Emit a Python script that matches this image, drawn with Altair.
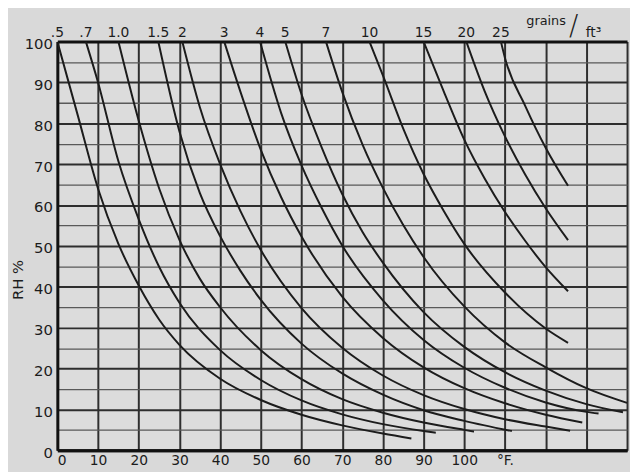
import altair as alt
import pandas as pd

# curve labels (grains per cubic foot)
GRAINS = [".5", ".7", "1.0", "1.5", "2", "3", "4", "5", "7", "10", "15", "20", "25"]

# temperature (°F) and relative humidity (%)
T_05 = [0, 5, 10, 15, 20, 25, 30, 40, 50, 60, 70, 80, 87]
RH_05 = [100, 82, 64, 50.5, 40.3, 32, 25.8, 17.5, 12.3, 8.7, 6.1, 4.1, 2.9]

T_07 = [7, 10, 15, 20, 25, 30, 40, 50, 60, 70, 80, 90, 93]
RH_07 = [100, 90, 70.7, 56.5, 44.9, 36.1, 24.5, 17.2, 12.2, 8.8, 6.4, 4.7, 4.3]

T_10 = [15, 20, 25, 30, 35, 40, 50, 60, 70, 80, 90, 100, 102.4]
RH_10 = [100, 80.6, 64.1, 51.5, 42, 35, 24.5, 17.4, 12.5, 9.2, 6.8, 5.0, 4.6]

T_15 = [24.8, 30, 35, 40, 45, 50, 60, 70, 80, 90, 100, 111.7]
RH_15 = [100, 78, 63, 52.4, 43.9, 36.8, 26.1, 18.8, 13.6, 9.8, 7.2, 4.7]

T_2 = [30.7, 35, 40, 45, 50, 60, 70, 80, 90, 100, 110, 120, 126]
RH_2 = [100, 84, 70, 58.5, 49, 34.8, 25.1, 18.3, 13.5, 10.1, 7.6, 5.8, 4.8]

T_3 = [41, 45, 50, 55, 60, 70, 80, 90, 100, 110, 120, 129]
RH_3 = [100, 87.7, 73.5, 61.9, 52.3, 37.6, 27.5, 20.3, 15.2, 11.5, 8.7, 6.8]

T_4 = [49.8, 55, 60, 65, 70, 80, 90, 100, 110, 120, 130, 133]
RH_4 = [100, 82.5, 69.7, 59.2, 50.1, 36.7, 27, 20.2, 15.3, 11.7, 9.4, 9.0]

T_5 = [56, 60, 65, 70, 75, 80, 90, 100, 110, 120, 130, 139]
RH_5 = [100, 87.1, 74, 62.7, 53.4, 45.9, 33.8, 25.3, 19.1, 14.6, 11.3, 9.3]

T_7 = [66, 70, 75, 80, 85, 90, 100, 110, 120, 130, 140]
RH_7 = [100, 87.7, 74.8, 64.2, 55.1, 47.3, 35.2, 26.4, 20.3, 15.2, 11.6]

T_10G = [76.7, 80, 85, 90, 95, 100, 110, 120, 125.5]
RH_10G = [100, 91.7, 78.7, 67.6, 58.5, 50.5, 38.6, 29.8, 26.3]

T_15G = [90, 95, 100, 105, 110, 115, 120, 125.5]
RH_15G = [100, 87.7, 76, 66.5, 58.3, 51.2, 44.8, 38.9]

T_20G = [100.5, 105, 110, 115, 120, 125.5]
RH_20G = [100, 87.9, 76.8, 67.4, 59.2, 51.4]

T_25G = [109, 110, 115, 120, 125.5]
RH_25G = [100, 96, 84.2, 74, 64.7]

CURVES_T = [T_05, T_07, T_10, T_15, T_2, T_3, T_4, T_5, T_7, T_10G, T_15G, T_20G, T_25G]
CURVES_RH = [RH_05, RH_07, RH_10, RH_15, RH_2, RH_3, RH_4, RH_5, RH_7, RH_10G, RH_15G, RH_20G, RH_25G]

X_GRID = list(range(0, 145, 5))
Y_GRID = list(range(0, 105, 5))
X_UNIT = "°F."

rows = []
for g, ts, rhs in zip(GRAINS, CURVES_T, CURVES_RH):
    for i, (t, rh) in enumerate(zip(ts, rhs)):
        rows.append({"grains": g, "T": t, "RH": rh, "i": i})
curves = pd.DataFrame(rows)
labels = pd.DataFrame({"grains": GRAINS, "T": [ts[0] for ts in CURVES_T]})

FONT = "DejaVu Sans"
INK = "#1c1c1c"
BG = "#d9d9d9"

x_grid_color = {"condition": {"test": "datum.value % 10 === 0", "value": "#2e2e2e"}, "value": "#595959"}
x_grid_width = {"condition": {"test": "datum.value % 10 === 0", "value": 2}, "value": 1.3}
y_grid_color = {"condition": [{"test": "datum.value === 0 || datum.value === 100", "value": "#111"},
                              {"test": "datum.value % 10 === 0", "value": "#2e2e2e"}],
                "value": "#595959"}
y_grid_width = {"condition": [{"test": "datum.value === 0 || datum.value === 100", "value": 3},
                              {"test": "datum.value % 10 === 0", "value": 2}],
                "value": 1.3}

x_scale = alt.Scale(domain=[0, 140], nice=False, zero=False)
y_scale = alt.Scale(domain=[0, 100], nice=False)

x_axis = alt.Axis(values=X_GRID, grid=True, gridColor=x_grid_color, gridWidth=x_grid_width,
                  ticks=False, domainColor="#111", domainWidth=3, labelFont=FONT,
                  labelFontSize=14, labelColor=INK, labelPadding=3,
                  labelExpr=f"datum.value <= 100 && datum.value % 10 === 0 ? datum.label : (datum.value === 110 ? '{X_UNIT}' : '')",
                  title=None)
y_axis = alt.Axis(values=Y_GRID, grid=True, gridColor=y_grid_color, gridWidth=y_grid_width,
                  ticks=False, domainColor="#111", domainWidth=3, labelFont=FONT,
                  labelFontSize=15, labelColor=INK, labelPadding=5, labelOffset=2,
                  labelExpr="datum.value % 10 === 0 ? datum.label : ''",
                  title="RH %", titleFont=FONT, titleFontSize=15, titleFontWeight="normal",
                  titleColor=INK, titleX=-40, titleY=241, titleAlign="center",
                  titleBaseline="middle")

lines = alt.Chart(curves).mark_line(interpolate="monotone", color=INK, strokeWidth=2, clip=True).encode(
    x=alt.X("T:Q", scale=x_scale, axis=x_axis),
    y=alt.Y("RH:Q", scale=y_scale, axis=y_axis),
    detail="grains:N",
    order="i:Q",
)

top_labels = alt.Chart(labels).mark_text(font=FONT, fontSize=14, color=INK, baseline="middle", align="center").encode(
    x=alt.X("T:Q", scale=x_scale),
    y=alt.value(-9),
    text="grains:N",
)

one = alt.Data(values=[{}])
unit1 = alt.Chart(one).mark_text(text="grains", font=FONT, fontSize=13, color=INK, baseline="middle").encode(
    x=alt.value(495), y=alt.value(-21))
unit2 = alt.Chart(one).mark_text(text="/", font=FONT, fontSize=28, fontWeight="lighter", color=INK, baseline="middle").encode(
    x=alt.value(523), y=alt.value(-15))
unit3 = alt.Chart(one).mark_text(text="ft³", font=FONT, fontSize=14, color=INK, baseline="middle").encode(
    x=alt.value(543), y=alt.value(-9))

chart = alt.layer(lines, top_labels, unit1, unit2, unit3).properties(
    width=577, height=414,
    padding={"left": 50, "top": 31, "right": 3, "bottom": 19},
    autosize=alt.AutoSizeParams(type="none"),
    background=BG,
).configure_view(stroke="transparent", fill="#dcdcdc")

chart.save("out.html", embed_options={"renderer": "svg", "actions": False})
